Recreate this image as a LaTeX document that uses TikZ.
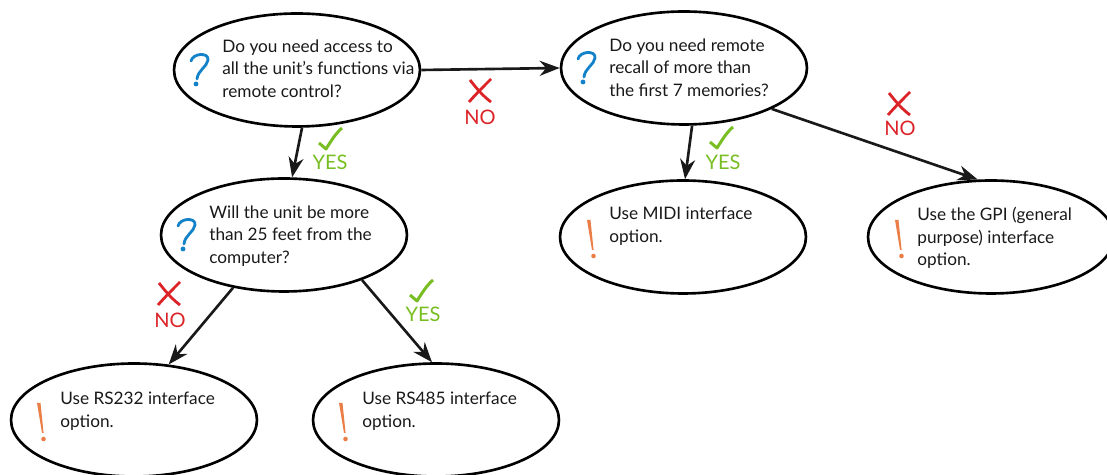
\documentclass[tikz,border=0pt]{standalone}
\usepackage{fontspec}
\setmainfont{Lato}
\usetikzlibrary{arrows.meta,shapes.geometric}
\definecolor{qblue}{RGB}{20,130,200}
\definecolor{xorange}{RGB}{235,125,70}
\definecolor{okgreen}{RGB}{120,190,35}
\definecolor{nored}{RGB}{220,35,40}
\tikzset{
  choice/.style={ellipse, draw=black, line width=1.5pt, minimum width=4.92cm, minimum height=2.26cm, inner sep=0pt},
  ask/.style={anchor=north west, align=left, inner sep=0pt, text=black!90, font=\fontsize{9.8}{12.8}\selectfont},
  answer/.style={inner sep=0pt, font=\fontsize{11.4}{12}\selectfont},
  link/.style={-{Stealth[length=4mm,width=3mm]}, line width=1.5pt, draw=black!90},
  qmark/.pic={
    \draw[qblue, line width=1.6pt, line cap=round] (-7,-9) .. controls (-5,-17) and (11,-18) .. (10,-10) .. controls (9,-3) and (0,0) .. (-1,9);
    \fill[qblue] (-2,14) circle[radius=1.4pt];
  },
  bang/.pic={
    \fill[xorange] (-5,-18) -- (-1.5,-18) -- (1.6,12) -- (0,12) -- cycle;
    \fill[xorange] (1.5,18) circle[radius=1.3pt];
  },
  tick/.pic={
    \draw[okgreen, line width=1.7pt, line join=round] (-12,4) -- (-5,10) .. controls (0,2) and (5,-6) .. (11,-11);
  },
  cross/.pic={
    \draw[nored, line width=1.6pt] (-10,-11) .. controls (-3,-2) and (3,5) .. (11,11);
    \draw[nored, line width=1.6pt] (11,-12) .. controls (3,-4) and (-4,3) .. (-11,11);
  },
}
\begin{document}
\begin{tikzpicture}[x=0.02cm, y=-0.02cm]
  \useasboundingbox (0,0) rectangle (1107,475);

  % questions
  \node[choice] (access) at (297,70) {};
  \node[choice] (recall) at (684,68) {};
  \node[choice] (dist) at (284,235) {};
  % options
  \node[choice] (midi) at (683,237) {};
  \node[choice] (gpi) at (991,237) {};
  \node[choice] (rs232) at (134,420) {};
  \node[choice] (rs485) at (436,420) {};

  \node[ask] (accesstxt) at (222,39) {Do you need access to\\all the unit's functions via\\remote control?};
  \node[ask] (recalltxt) at (609,38) {Do you need remote\\recall of more than\\the first 7 memories?};
  \node[ask] (disttxt) at (209,205) {Will the unit be more\\than 25 feet from the\\computer?};
  \node[ask] (miditxt) at (609,207) {Use MIDI interface\\option.};
  \node[ask] (gpitxt) at (917,207) {Use the GPI (general\\purpose) interface\\option.};
  \node[ask] (rs232txt) at (60,392) {Use RS232 interface\\option.};
  \node[ask] (rs485txt) at (362,392) {Use RS485 interface\\option.};

  \pic at (198,70) {qmark};
  \pic at (585,68) {qmark};
  \pic at (185,235) {qmark};
  \pic at (592,238) {bang};
  \pic at (900,238) {bang};
  \pic at (42,421) {bang};
  \pic at (344,421) {bang};

  \draw[link] (access.east) -- (recall.west);
  \draw[link] (access.275) -- (dist.82);
  \draw[link] (recall.278) -- (midi.88);
  \draw[link] (recall.335) -- (gpi.103);
  \draw[link] (dist.226) -- (rs232.58);
  \draw[link] (dist.330) -- (rs485.94);

  % yes / no
  \pic at (480,91) {cross};
  \node[answer, text=nored] (no1) at (480,117) {NO};
  \pic at (331,139) {tick};
  \node[answer, text=okgreen] (yes1) at (330,162) {YES};
  \pic at (722,138) {tick};
  \node[answer, text=okgreen] (yes2) at (723,162) {YES};
  \pic at (899,104) {cross};
  \node[answer, text=nored] (no2) at (900,128) {NO};
  \pic at (169,294) {cross};
  \node[answer, text=nored] (no3) at (170,320) {NO};
  \pic at (422,291) {tick};
  \node[answer, text=okgreen] (yes3) at (423,314) {YES};
\end{tikzpicture}
\end{document}
